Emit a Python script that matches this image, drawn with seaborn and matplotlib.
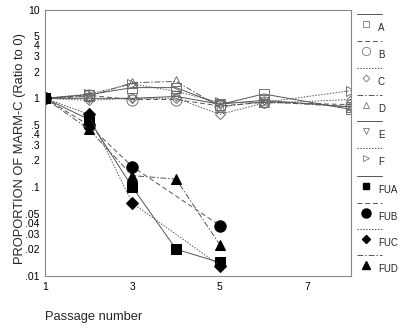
import numpy as np
import pandas as pd
import matplotlib
matplotlib.use("Agg")
import matplotlib.pyplot as plt
import seaborn as sns
from matplotlib.ticker import FixedLocator, NullLocator, NullFormatter

sns.set_theme(style="white")
plt.rcParams['font.family'] = ['Liberation Sans', 'DejaVu Sans']

# ---- data ----
passage_ctrl = [1, 2, 3, 4, 5, 6, 8]
A = [1.0, 1.10, 1.32, 1.32, 0.85, 1.12, 0.75]
B = [1.0, 1.08, 0.97, 0.97, 0.82, 0.90, 0.85]
C = [1.0, 0.95, 1.00, 1.00, 0.66, 0.88, 0.97]
D = [1.0, 1.05, 1.50, 1.55, 0.80, 0.92, 0.80]
E = [1.0, 1.00, 1.00, 1.05, 0.86, 0.95, 0.80]
F = [1.0, 1.12, 1.45, 1.20, 0.90, 0.90, 1.22]

passage_fu = [1, 2, 3, 4, 5]
FUA = [1.0, 0.58, 0.10, 0.020, 0.0142]
FUB = [1.0, 0.50, 0.17, np.nan, 0.037]
FUC = [1.0, 0.66, 0.066, np.nan, 0.0131]
FUD = [1.0, 0.45, 0.135, 0.123, 0.0224]

series_names = ["A", "B", "C", "D", "E", "F", "FUA", "FUB", "FUC", "FUD"]
y_ticks = [10, 5, 4, 3, 2, 1, .5, .4, .3, .2, .1, .05, .04, .03, .02, .01]
y_tick_labels = ["10", "5", "4", "3", "2", "1", ".5", ".4", ".3", ".2", ".1",
                 ".05", ".04", ".03", ".02", ".01"]
x_ticks = [1, 2, 3, 4, 5, 6, 7, 8]
x_tick_labels = ["1", "", "3", "", "5", "", "7", ""]

values = {"A": A, "B": B, "C": C, "D": D, "E": E, "F": F,
          "FUA": FUA, "FUB": FUB, "FUC": FUC, "FUD": FUD}

# ---- styles ----
line_col = "#555555"
styles = {
    "A": dict(ls="-", marker="s", filled=False),
    "B": dict(ls=(0, (5, 3)), marker="o", filled=False),
    "C": dict(ls=(0, (1.5, 1.5)), marker="D", filled=False),
    "D": dict(ls=(0, (6, 2, 1.5, 2)), marker="^", filled=False),
    "E": dict(ls="-", marker="v", filled=False),
    "F": dict(ls=(0, (1.5, 1.5)), marker=">", filled=False),
    "FUA": dict(ls="-", marker="s", filled=True),
    "FUB": dict(ls=(0, (5, 3)), marker="o", filled=True),
    "FUC": dict(ls=(0, (1.5, 1.5)), marker="D", filled=True),
    "FUD": dict(ls=(0, (6, 2, 1.5, 2)), marker="^", filled=True),
}
msize = {"s": 5.5, "o": 7, "D": 4.5, "^": 6, "v": 6, ">": 6}

fig = plt.figure(figsize=(4.0, 3.27), dpi=100)
ax = fig.add_axes([45/400, 1 - 276/327, (351-45)/400, (276-9.5)/327])

for name in series_names:
    xs = passage_fu if name.startswith("FU") else passage_ctrl
    df = pd.DataFrame({"x": xs, "y": values[name]}).dropna()
    st = styles[name]
    if st["filled"]:
        mk = dict(markerfacecolor="black", markeredgecolor="black")
        ms = msize[st["marker"]] + 1.2
    else:
        mk = dict(markerfacecolor="none", markeredgecolor="#707070", markeredgewidth=0.7)
        ms = msize[st["marker"]] + 1
    sns.lineplot(data=df, x="x", y="y", ax=ax, color=line_col, lw=0.7,
                 linestyle=st["ls"], marker=st["marker"], markersize=ms,
                 estimator=None, sort=False, legend=False, **mk)

ax.set_yscale("log")
ax.set_xlim(1, 8)
ax.set_ylim(0.01, 10)
ax.yaxis.set_major_locator(FixedLocator(y_ticks))
ax.set_yticklabels(y_tick_labels)
ax.yaxis.set_minor_locator(NullLocator())
ax.yaxis.set_minor_formatter(NullFormatter())
ax.set_xticks(x_ticks)
ax.set_xticklabels(x_tick_labels)
ax.tick_params(axis="both", which="major", direction="out", length=3, width=0.6,
               color="#444444", labelsize=7.5, pad=1.5, labelcolor="black")
ax.tick_params(axis="y", pad=1)
for sp in ax.spines.values():
    sp.set_color("#888888")
    sp.set_linewidth(0.8)
    sp.set_visible(True)

ax.set_xlabel("")
ax.set_ylabel("")
fig.text(20/400, 1 - 148/327, "PROPORTION OF MARM-C (Ratio to 0)", rotation=90,
         ha="center", va="center", fontsize=9.3)
fig.text(45/400, 1 - 317/327, "Passage number", ha="left", va="center", fontsize=9.3)

# ---- legend on the right ----
lax = fig.add_axes([0, 0, 1, 1], facecolor="none")
lax.set_xlim(0, 400)
lax.set_ylim(327, 0)
lax.axis("off")
line_y = [14, 41, 68, 95, 121, 148, 176, 203, 229, 255]
for name, yl in zip(series_names, line_y):
    st = styles[name]
    lax.plot([357, 382], [yl, yl], color=line_col, lw=0.7, linestyle=st["ls"])
    if st["filled"]:
        lax.plot([366], [yl + 10], marker=st["marker"], markersize=msize[st["marker"]] - 0.5,
                 color="black", linestyle="none")
    else:
        lax.plot([366], [yl + 10], marker=st["marker"], markersize=msize[st["marker"]] - 1,
                 markerfacecolor="none", markeredgecolor="#777777", markeredgewidth=0.6,
                 linestyle="none")
    lax.text(378, yl + 14, name, ha="left", va="center", fontsize=7)

fig.savefig("out.png", dpi=100)
